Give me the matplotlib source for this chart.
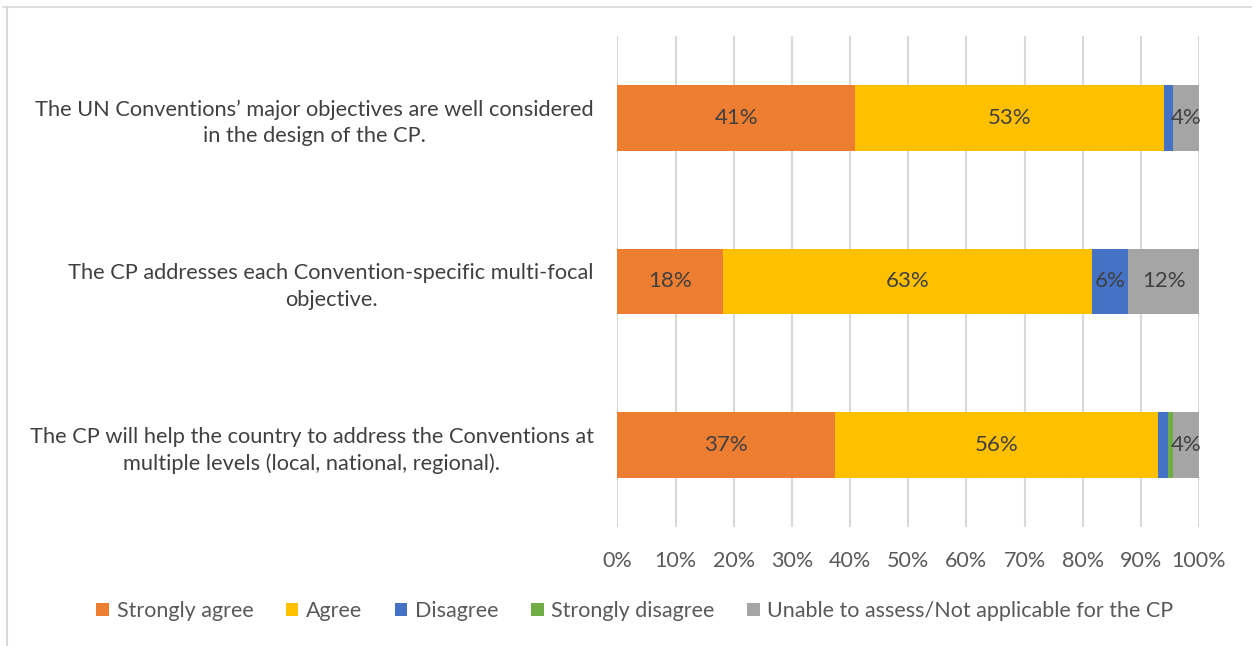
import numpy as np
import matplotlib.pyplot as plt
from matplotlib.lines import Line2D

plt.rcParams['font.family'] = ['Lato', 'DejaVu Sans']

statements = [
    "The UN Conventions\u2019 major objectives are well considered\nin the design of the CP.",
    "The CP addresses each Convention-specific multi-focal\nobjective.",
    "The CP will help the country to address the Conventions at\nmultiple levels (local, national, regional).",
]
responses = ["Strongly agree", "Agree", "Disagree", "Strongly disagree",
             "Unable to assess/Not applicable for the CP"]

# share of answers (%) per statement
strongly_agree = [40.8, 18.2, 37.4]
agree = [53.1, 63.4, 55.6]
disagree = [1.7, 6.2, 1.7]
strongly_disagree = [0.0, 0.0, 0.9]
unable = [4.4, 12.2, 4.4]

colors = ['#ED7D31', '#FFC000', '#4472C4', '#70AD47', '#A5A5A5']
series = [strongly_agree, agree, disagree, strongly_disagree, unable]

fig = plt.figure(figsize=(12.52, 6.46), dpi=100)
ax = fig.add_axes([0.4932, 0.1842, 0.4645, 0.7601])

y = np.arange(len(statements))
left = np.zeros(len(statements))
for name, vals, c in zip(responses, series, colors):
    vals = np.array(vals)
    bars = ax.barh(y, vals, left=left, height=0.40, color=c, label=name, zorder=3)
    for b, v in zip(bars, vals):
        if v >= 3:
            ax.text(b.get_x() + b.get_width() / 2, b.get_y() + b.get_height() / 2,
                    '%.0f%%' % v, ha='center', va='center', fontsize=16,
                    color='#404040', zorder=4)
    left += vals

ax.set_xlim(0, 100)
ax.set_ylim(2.5, -0.5)
ax.set_xticks(np.arange(0, 101, 10))
ax.set_xticklabels(['%d%%' % t for t in range(0, 101, 10)])
ax.set_yticks(y)
ax.set_yticklabels(statements)
for t in ax.get_yticklabels():
    t.set_multialignment('center')
    t.set_linespacing(1.4)
ax.tick_params(axis='y', length=0, pad=17, labelsize=15.7, labelcolor='#404040')
ax.tick_params(axis='x', length=0, pad=17, labelsize=15.5, labelcolor='#595959')
ax.grid(axis='x', color='#D9D9D9', linewidth=1.5, zorder=0)
for s in ax.spines.values():
    s.set_visible(False)

fig.legend(loc='center', bbox_to_anchor=(0.507, 0.054), ncol=5, frameon=False,
           fontsize=15.5, handlelength=0.6, handleheight=0.6, handletextpad=0.35,
           columnspacing=1.5, labelcolor='#595959')

# chart frame
fig.add_artist(Line2D([0.0024, 1], [0.989, 0.989], transform=fig.transFigure,
                      color='#D9D9D9', linewidth=1.2))
fig.add_artist(Line2D([0.0052, 0.0052], [0, 0.989], transform=fig.transFigure,
                      color='#D9D9D9', linewidth=1.5))

fig.savefig('out.png', dpi=100)
